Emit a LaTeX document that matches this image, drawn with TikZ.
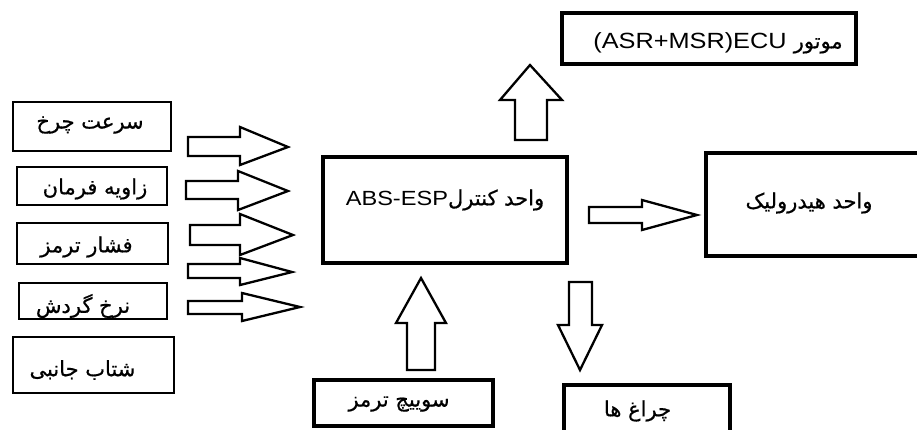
\documentclass[tikz,border=0pt]{standalone}
\usepackage{fontspec}
\setmainfont{Liberation Sans}[FakeStretch=1.15]
\newfontfamily\fa[Script=Arabic, FakeBold=0.6]{DejaVu Sans}
\TeXXeTstate=1
\begin{document}
\begin{tikzpicture}[x=1pt,y=-1pt,
  box/.style={draw=black, fill=white, inner sep=0pt, line width=2.8pt},
  thickbox/.style={box, line width=3.5pt},
  mainbox/.style={box, line width=4.5pt},
  lbl/.style={inner sep=0pt, text=black, font=\fa\fontsize{21}{24}\selectfont},
  blk/.style={draw=black, fill=white, line width=2.3pt, line join=miter}]
\useasboundingbox (0,0) rectangle (917,429);
\clip (0,0) rectangle (917,429);
\fill[white] (0,0) rectangle (917,429);

% left input boxes
\node[box, minimum width=158pt, minimum height=49pt] (b1) at (92,126.5) {};
\node[box, minimum width=150pt, minimum height=38pt] (b2) at (92,186) {};
\node[box, minimum width=151pt, minimum height=41pt] (b3) at (92.5,243.5) {};
\node[box, minimum width=148pt, minimum height=36pt] (b4) at (93,301) {};
\node[box, minimum width=161pt, minimum height=56pt] (b5) at (93.5,365) {};
\node[lbl] (t1) at (90,125) {\beginR سرعت چرخ\endR};
\node[lbl] (t2) at (95,189) {\beginR زاویه فرمان\endR};
\node[lbl] (t3) at (86.5,247) {\beginR فشار ترمز\endR};
\node[lbl] (t4) at (83,306) {\beginR نرخ گردش\endR};
\node[lbl] (t5) at (82.5,370) {\beginR شتاب جانبی\endR};

% central unit
\node[mainbox, minimum width=244pt, minimum height=106pt] (ecu) at (445,210) {};
\node[inner sep=0pt] (tecu) at (445,200) {\fontsize{20.5}{24}\selectfont ABS-ESP{\fa\fontsize{21}{24}\selectfont\beginR واحد کنترل\endR}};

% top box
\node[thickbox, minimum width=294pt, minimum height=51pt] (mot) at (709,38.5) {};
\node[inner sep=0pt] (tmot) at (718,43) {\fontsize{22}{26}\selectfont (ASR+MSR)ECU {\fa\fontsize{21}{24}\selectfont\beginR موتور\endR}};

% hydraulic box
\node[thickbox, minimum width=225pt, minimum height=103pt] (hyd) at (818.5,204.5) {};
\node[lbl] (thyd) at (809,203) {\beginR واحد هیدرولیک\endR};

% bottom boxes
\node[thickbox, minimum width=179pt, minimum height=46pt] (sw) at (403.5,403) {};
\node[lbl] (tsw) at (399,404) {\beginR سوییچ ترمز\endR};
\node[thickbox, minimum width=166pt, minimum height=55pt] (lamp) at (647,412.5) {};
\node[lbl] (tlamp) at (637.5,411) {\beginR چراغ ها\endR};

% block arrows (inputs)
\draw[blk] (188,137) -- (240,137) -- (240,127) -- (288,147) -- (240,165) -- (240,156) -- (188,156) -- cycle;
\draw[blk] (186,181) -- (238,181) -- (238,171) -- (288,191) -- (238,210) -- (238,199) -- (186,199) -- cycle;
\draw[blk] (190,225) -- (240,225) -- (240,214) -- (293,235) -- (240,255) -- (240,245) -- (190,245) -- cycle;
\draw[blk] (188,264) -- (240,264) -- (240,258) -- (292,272) -- (240,285) -- (240,278) -- (188,278) -- cycle;
\draw[blk] (188,301) -- (242,301) -- (242,293) -- (300,307) -- (242,321) -- (242,314) -- (188,314) -- cycle;

% up arrow to engine ECU
\draw[blk] (515,140) -- (515,100) -- (500,100) -- (530,65) -- (562,100) -- (547,100) -- (547,140) -- cycle;
% right arrow to hydraulic unit
\draw[blk] (589,207) -- (642,207) -- (642,200) -- (697,215) -- (642,230) -- (642,223) -- (589,223) -- cycle;
% up arrow from brake switch
\draw[blk] (407,370) -- (407,323) -- (396,323) -- (421,278) -- (446,323) -- (435,323) -- (435,370) -- cycle;
% down arrow to lamps
\draw[blk] (569,282) -- (592,282) -- (592,325) -- (602,325) -- (580,370) -- (558,325) -- (569,325) -- cycle;
\end{tikzpicture}
\end{document}
